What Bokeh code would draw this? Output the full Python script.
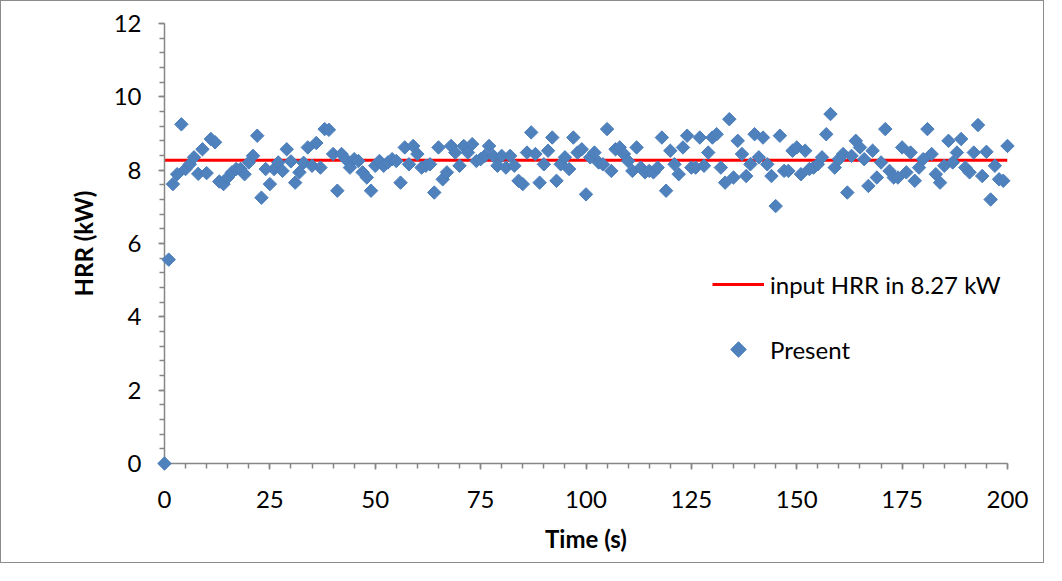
import math
from bokeh.plotting import figure
from bokeh.models import Range1d, SingleIntervalTicker, Legend, LegendItem
from bokeh.embed import file_html
from bokeh.resources import INLINE

# ---- data ----
time_s = list(range(0, 201))
hrr_present = [
    0, 5.56, 7.62, 7.89, 9.25, 8.03, 8.16, 8.35, 7.9, 8.57,
    7.92, 8.85, 8.76, 7.69, 7.62, 7.8, 7.94, 8.03, 8.03, 7.89,
    8.21, 8.39, 8.94, 7.25, 8.03, 7.62, 8.03, 8.21, 7.98, 8.57,
    8.24, 7.66, 7.94, 8.2, 8.62, 8.12, 8.74, 8.07, 9.12, 9.1,
    8.44, 7.44, 8.44, 8.3, 8.07, 8.3, 8.25, 7.94, 7.8, 7.44,
    8.12, 8.25, 8.12, 8.21, 8.3, 8.25, 7.66, 8.62, 8.16, 8.66,
    8.44, 8.07, 8.12, 8.16, 7.39, 8.62, 7.75, 7.94, 8.66, 8.48,
    8.12, 8.66, 8.48, 8.71, 8.25, 8.3, 8.39, 8.66, 8.39, 8.12,
    8.39, 8.07, 8.39, 8.12, 7.71, 7.62, 8.48, 9.03, 8.44, 7.66,
    8.16, 8.53, 8.89, 7.71, 8.16, 8.35, 8.03, 8.89, 8.48, 8.57,
    7.34, 8.35, 8.48, 8.21, 8.16, 9.12, 7.98, 8.57, 8.62, 8.44,
    8.25, 7.98, 8.62, 8.07, 7.94, 7.98, 7.94, 8.07, 8.89, 7.44,
    8.53, 8.16, 7.89, 8.62, 8.94, 8.07, 8.07, 8.89, 8.12, 8.48,
    8.89, 8.98, 8.07, 7.66, 9.39, 7.8, 8.8, 8.44, 7.84, 8.16,
    8.98, 8.35, 8.89, 8.16, 7.84, 7.02, 8.94, 7.98, 7.98, 8.53,
    8.62, 7.89, 8.53, 8.03, 8.07, 8.16, 8.35, 8.98, 9.53, 8.07,
    8.3, 8.44, 7.39, 8.39, 8.8, 8.62, 8.3, 7.57, 8.53, 7.8,
    8.21, 9.12, 7.98, 7.8, 7.8, 8.62, 7.94, 8.48, 7.71, 8.07,
    8.3, 9.12, 8.44, 7.89, 7.66, 8.12, 8.8, 8.21, 8.48, 8.85,
    8.07, 7.94, 8.48, 9.23, 7.84, 8.5, 7.2, 8.12, 7.75, 7.71,
    8.66,
]
input_hrr = 8.27
series_labels = ["input HRR in 8.27 kW", "Present"]
x_label = "Time (s)"
y_label = "HRR (kW)"

FONT = "Lato"
AXIS_GRAY = "#868686"
BLUE_FILL, BLUE_LINE = "#4F81BD", "#4A7EBB"

W, H = 1044, 563
ML, MR, MT, MB = 163, 38, 22, 101
X0, X1, Y0, Y1 = 0, 200, 0, 12
p = figure(width=W, height=H, output_backend="svg", toolbar_location=None,
           x_range=Range1d(X0, X1), y_range=Range1d(Y0, Y1),
           min_border_left=ML, min_border_right=MR,
           min_border_top=MT, min_border_bottom=MB)
p.styles = {"border": "1px solid #8c8c8c"}
p.outline_line_color = None
p.xgrid.visible = False
p.ygrid.visible = False
p.background_fill_color = "white"
p.border_fill_color = "white"

# axes
p.xaxis.ticker = SingleIntervalTicker(interval=25, num_minor_ticks=5)
p.yaxis.ticker = SingleIntervalTicker(interval=2, num_minor_ticks=5)
for ax in (p.xaxis[0], p.yaxis[0]):
    ax.axis_line_color = AXIS_GRAY
    ax.axis_line_width = 1.5
    ax.major_tick_line_color = AXIS_GRAY
    ax.minor_tick_line_color = AXIS_GRAY
    ax.major_tick_line_width = 1.5
    ax.minor_tick_line_width = 1.5
    ax.major_tick_in = 0
    ax.major_tick_out = 6
    ax.minor_tick_in = 0
    ax.minor_tick_out = 5
    ax.major_label_text_font = FONT
    ax.major_label_text_font_size = "24px"
    ax.major_label_text_color = "black"
    ax.axis_label_text_font = FONT
    ax.axis_label_text_font_size = "24px"
    ax.axis_label_text_font_style = "bold"
    ax.axis_label_text_color = "black"
p.xaxis.major_label_standoff = 21
p.yaxis.major_label_standoff = 17
p.yaxis.axis_label = y_label
p.yaxis.axis_label_standoff = 13
p.xaxis.axis_label = x_label
p.xaxis.axis_label_standoff = 13

# series
line_r = p.line([time_s[0], time_s[-1]], [input_hrr, input_hrr],
                line_color="#FF0000", line_width=2.8)
pts_r = p.scatter(time_s, hrr_present, marker="square", angle=math.pi / 4,
                  size=9.5, fill_color=BLUE_FILL, line_color=BLUE_LINE,
                  line_width=1, level="overlay")

# legend (Bokeh draws legend markers unrotated, so the diamond swatch is
# drawn as a rotated square at the centre of the legend glyph box)
LEG_X, LEG_Y, GW, GH, SP = 548, 99, 52, 30, 35
blank_r = p.scatter([], [], marker="square", fill_alpha=0, line_alpha=0)
legend = Legend(items=[LegendItem(label=series_labels[0], renderers=[line_r]),
                       LegendItem(label=series_labels[1], renderers=[blank_r])],
                location=(LEG_X, LEG_Y), orientation="vertical",
                glyph_width=GW, glyph_height=GH, label_height=GH,
                label_standoff=6, spacing=SP, padding=0, margin=0,
                border_line_color=None, background_fill_alpha=0,
                label_text_font=FONT, label_text_font_size="24px",
                label_text_color="black")
p.add_layout(legend, "center")

frame_w = W - ML - MR
frame_h = H - MT - MB
sw_x = X0 + (LEG_X + GW / 2) * (X1 - X0) / frame_w
sw_y = Y0 + (LEG_Y + GH / 2) * (Y1 - Y0) / frame_h
p.scatter([sw_x], [sw_y], marker="square", angle=math.pi / 4, size=11,
          fill_color=BLUE_FILL, line_color=BLUE_LINE, line_width=1,
          level="overlay")

open("out.html", "w").write(file_html(p, INLINE))
